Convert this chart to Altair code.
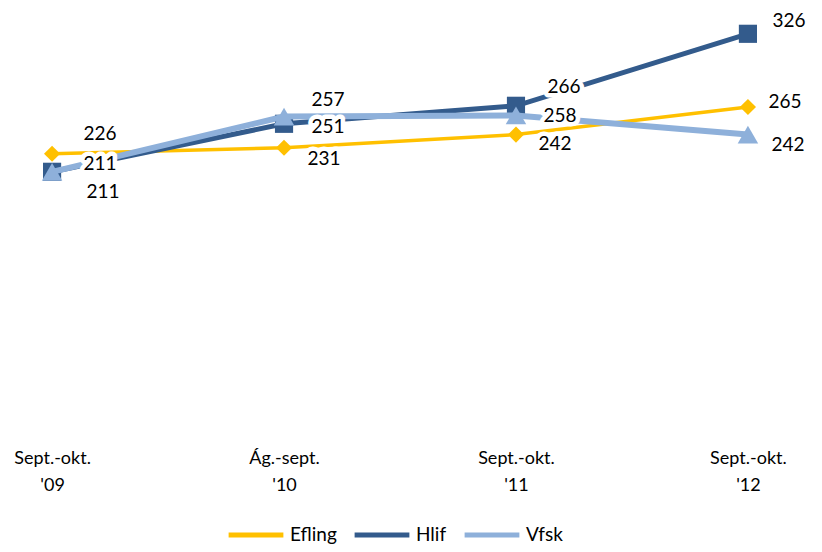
import altair as alt
import pandas as pd

categories = ["Sept.-okt.\n'09", "Ág.-sept.\n'10", "Sept.-okt.\n'11", "Sept.-okt.\n'12"]
series = ["Efling", "Hlif", "Vfsk"]
efling = [226, 231, 242, 265]
hlif = [211, 251, 266, 326]
vfsk = [211, 257, 258, 242]

# label placement (pixel offsets from each point), styling only
lab_dx = {"Efling": [48, 40, 39, 37], "Hlif": [48, 44, 48, 41], "Vfsk": [51, 44, 44, 40]}
lab_dy = {"Efling": [-20, 11, 9, -5], "Hlif": [-8, 3, -19, -13], "Vfsk": [20, -17, 1, 10]}

colors = ["#FFC000", "#335B8C", "#8EB0DA"]

PLOT_H = 414
Y_MAX = 345.0
PX_PER_UNIT = PLOT_H / Y_MAX

rows = []
for s, vals in zip(series, [efling, hlif, vfsk]):
    for i, (c, v) in enumerate(zip(categories, vals)):
        rows.append({"cat": c, "series": s, "value": v, "dx": lab_dx[s][i], "dy": lab_dy[s][i]})
df = pd.DataFrame(rows)

x = alt.X("cat:N", sort=categories, title=None,
          scale=alt.Scale(type="point", padding=0.19),
          axis=alt.Axis(labelAngle=0, domain=False, ticks=False, grid=False,
                        labelFontSize=18, labelColor="black", labelFont="Lato",
                        labelPadding=24, labelLineHeight=27,
                        labelExpr="split(datum.label, '\\n')"))
yscale = alt.Scale(domain=[0, Y_MAX], nice=False, zero=True)
y = alt.Y("value:Q", scale=yscale, axis=None)
color = alt.Color("series:N", scale=alt.Scale(domain=series, range=colors),
                  legend=alt.Legend(title=None, orient="none", direction="horizontal",
                                    legendX=218, legendY=494,
                                    labelFontSize=19, labelFont="Lato", labelColor="black",
                                    symbolType="stroke", symbolStrokeWidth=5, symbolSize=3000,
                                    columnPadding=7, labelOffset=4))

base = alt.Chart(df)

def series_layer(name, width, shape, size):
    d = base.transform_filter(alt.datum.series == name)
    line = d.mark_line(strokeWidth=width).encode(x=x, y=y, color=color)
    pt = d.mark_point(shape=shape, size=size, filled=True, opacity=1).encode(x=x, y=y, color=color)
    return line + pt

layers = [
    series_layer("Efling", 3.5, "diamond", 260),
    series_layer("Hlif", 5, "square", 330),
    series_layer("Vfsk", 6, "triangle-up", 420),
]

lab = base.transform_calculate(ly=f"datum.value - datum.dy / {PX_PER_UNIT}")
ly = alt.Y("ly:Q", scale=yscale, axis=None)
halo = lab.mark_text(fontSize=19, font="Lato", stroke="white", strokeWidth=9,
                     fill="white", strokeJoin="round").encode(
    x=x, y=ly, text="value:Q",
    xOffset=alt.XOffset("dx:Q", scale=None))
labels = lab.mark_text(fontSize=19, font="Lato", color="black").encode(
    x=x, y=ly, text="value:Q",
    xOffset=alt.XOffset("dx:Q", scale=None))

chart = alt.layer(*layers, halo, labels).properties(
    width=784, height=PLOT_H,
    autosize=alt.AutoSizeParams(type="none"),
    padding={"left": 0, "top": 3, "right": 22, "bottom": 119},
).configure_view(stroke=None)

chart.save("out.html", embed_options={"renderer": "svg", "actions": False})
